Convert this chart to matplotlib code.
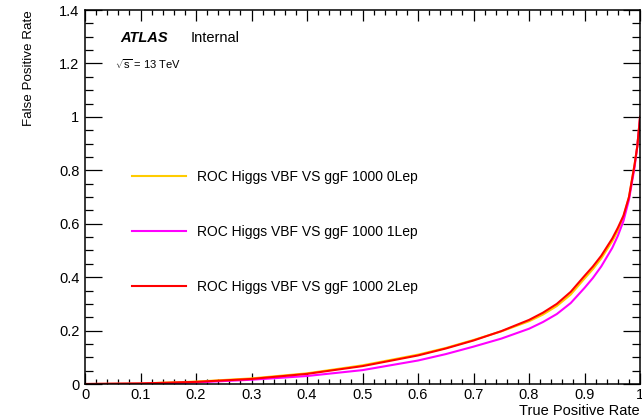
import matplotlib
matplotlib.use("Agg")
import matplotlib.pyplot as plt
from matplotlib.ticker import MultipleLocator

plt.rcParams['font.family'] = ['Liberation Sans', 'DejaVu Sans']
plt.rcParams['mathtext.fontset'] = 'custom'
plt.rcParams['mathtext.rm'] = 'Liberation Sans'
plt.rcParams['mathtext.it'] = 'Liberation Sans'

# ROC curves: true positive rate vs false positive rate
tpr = [0.0, 0.1, 0.2, 0.3, 0.4, 0.5, 0.6, 0.65, 0.7, 0.75, 0.8, 0.825, 0.85,
       0.875, 0.9, 0.915, 0.93, 0.95, 0.96, 0.97, 0.98, 0.99, 0.995, 1.0]
fpr_0lep = [0.0, 0.002, 0.009, 0.021, 0.040, 0.070, 0.110, 0.135, 0.165, 0.197,
            0.235, 0.260, 0.292, 0.335, 0.395, 0.430, 0.47, 0.535, 0.575, 0.625,
            0.70, 0.82, 0.89, 1.0]
fpr_1lep = [0.0, 0.001, 0.006, 0.016, 0.030, 0.052, 0.088, 0.112, 0.140, 0.170,
            0.207, 0.232, 0.262, 0.303, 0.36, 0.397, 0.44, 0.51, 0.555, 0.61,
            0.69, 0.81, 0.89, 1.0]
fpr_2lep = [0.0, 0.002, 0.008, 0.019, 0.038, 0.067, 0.107, 0.133, 0.163, 0.198,
            0.240, 0.267, 0.300, 0.345, 0.405, 0.440, 0.48, 0.545, 0.585, 0.63,
            0.70, 0.82, 0.89, 1.0]

labels = ['ROC Higgs VBF VS ggF 1000 0Lep',
          'ROC Higgs VBF VS ggF 1000 1Lep',
          'ROC Higgs VBF VS ggF 1000 2Lep']
colors = ['#ffcc00', '#ff00ff', '#ff0000']

fig = plt.figure(figsize=(6.42, 4.19), dpi=100)
ax = fig.add_axes([0.1324, 0.0835, 0.8646, 0.8925])

for fpr, lab, col in zip([fpr_0lep, fpr_1lep, fpr_2lep], labels, colors):
    ax.plot(tpr, fpr, color=col, lw=1.5, label=lab)

ax.set_xlim(0, 1)
ax.set_ylim(0, 1.4)
ax.xaxis.set_major_locator(MultipleLocator(0.1))
ax.xaxis.set_minor_locator(MultipleLocator(0.02))
ax.yaxis.set_major_locator(MultipleLocator(0.2))
ax.yaxis.set_minor_locator(MultipleLocator(0.05))
ax.xaxis.set_major_formatter(lambda v, p: '%g' % round(v, 2))
ax.yaxis.set_major_formatter(lambda v, p: '%g' % round(v, 2))

ax.tick_params(which='both', direction='in', top=True, right=True,
               labelsize=10.5, width=0.9)
ax.tick_params(axis='x', which='major', length=8, pad=3)
ax.tick_params(axis='x', which='minor', length=3.8)
ax.tick_params(axis='y', which='major', length=12, pad=4)
ax.tick_params(axis='y', which='minor', length=5.8)
for s in ax.spines.values():
    s.set_linewidth(1.1)

ax.set_xlabel('True Positive Rate', loc='right', fontsize=10.5, labelpad=1)
ax.set_ylabel('False Positive Rate', loc='top', fontsize=9.6, labelpad=17)

ax.text(0.063, 0.925, 'ATLAS', transform=ax.transAxes, fontsize=10.5,
        fontweight='bold', fontstyle='italic', va='center')
ax.text(0.191, 0.925, 'Internal', transform=ax.transAxes, fontsize=10.5,
        va='center')
ax.text(0.054, 0.856, r'$\sqrt{s}$ = 13 TeV', transform=ax.transAxes,
        fontsize=8, va='center')

ax.legend(loc='upper left', bbox_to_anchor=(0.0845, 0.572), frameon=False,
          fontsize=10, handlelength=3.9, handletextpad=0.8, labelspacing=2.95,
          borderpad=0, borderaxespad=0)

fig.savefig('out.png', dpi=100)
